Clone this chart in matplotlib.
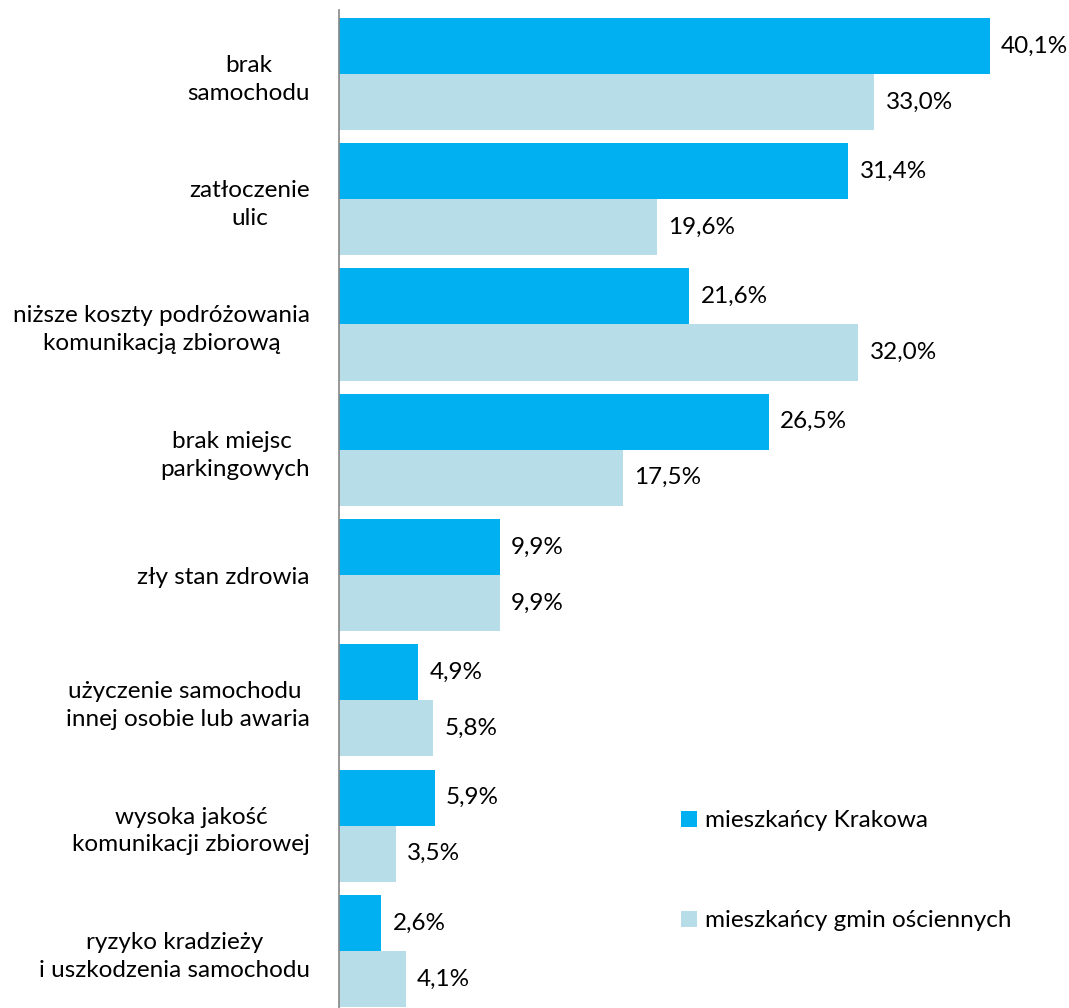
import matplotlib
matplotlib.use("Agg")
import matplotlib.pyplot as plt
import numpy as np

categories = [
    "brak\nsamochodu",
    "zatłoczenie\nulic",
    "niższe koszty podróżowania\nkomunikacją zbiorową",
    "brak miejsc \nparkingowych",
    "zły stan zdrowia",
    "użyczenie samochodu \ninnej osobie lub awaria",
    "wysoka jakość\nkomunikacji zbiorowej",
    "ryzyko kradzieży\ni uszkodzenia samochodu",
]
krakow = [40.1, 31.4, 21.6, 26.5, 9.9, 4.9, 5.9, 2.6]
gminy = [33.0, 19.6, 32.0, 17.5, 9.9, 5.8, 3.5, 4.1]
series_names = ["mieszkańcy Krakowa", "mieszkańcy gmin ościennych"]

plt.rcParams["font.family"] = ["Lato", "DejaVu Sans"]
FS = 17.5

fig = plt.figure(figsize=(10.69, 10.08), dpi=100)
ax = fig.add_axes([339 / 1069, 0.0, 1 - 339 / 1069, 1 - 10 / 1008])

y = np.arange(len(categories))
h = 0.447
b1 = ax.barh(y - h / 2, krakow, height=h, color="#00B0F0", label=series_names[0])
b2 = ax.barh(y + h / 2, gminy, height=h, color="#B7DEE8", label=series_names[1])

# value labels just past the end of each bar
for bars, vals in ((b1, krakow), (b2, gminy)):
    for rect, v in zip(bars, vals):
        ax.text(v + 0.7, rect.get_y() + rect.get_height() / 2,
                f"{v:.1f}%".replace(".", ","), va="center", ha="left",
                fontsize=FS, color="black")

ax.set_xlim(0, 45)
ax.set_ylim(7.455, -0.51)
ax.set_yticks(y)
ax.set_yticklabels(categories, fontsize=FS, multialignment="center",
                   linespacing=1.4)
ax.tick_params(axis="y", length=0, pad=21)
ax.set_xticks([])
for side in ("top", "right", "bottom"):
    ax.spines[side].set_visible(False)
ax.spines["left"].set_color("#868686")
ax.spines["left"].set_linewidth(1.2)

ax.legend(loc="center left", bbox_to_anchor=(0.4685, 0.1375), frameon=False,
          fontsize=FS, handlelength=0.65, handleheight=0.65, handletextpad=0.35,
          labelspacing=3.25, borderpad=0, borderaxespad=0)

fig.savefig("out.png", dpi=100)
